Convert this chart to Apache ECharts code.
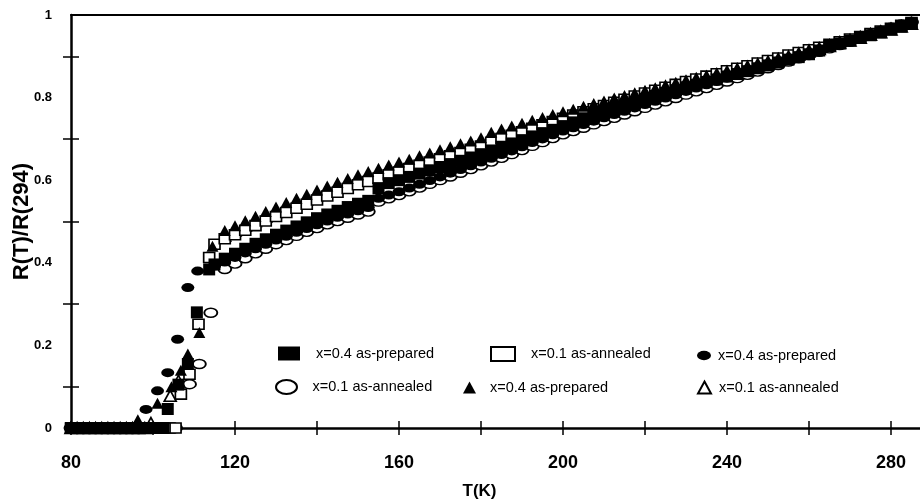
<!DOCTYPE html>
<html><head><meta charset="utf-8">
<script src="https://cdn.jsdelivr.net/npm/echarts@6/dist/echarts.min.js"></script>
<style>html,body{margin:0;padding:0;background:#fff}#c{width:920px;height:502px}</style>
</head><body><div id="c"></div>
<script>
// ---------- tick labels / names ----------
const xTickLabels = [80, 120, 160, 200, 240, 280];
const yTickLabels = [0, 0.2, 0.4, 0.6, 0.8, 1];
const xName = 'T(K)';
const yName = 'R(T)/R(294)';
const seriesIds = ['sqFilled', 'sqOpen', 'ciFilled', 'ciOpen', 'trFilled', 'trOpen'];
const legendLabels = ['x=0.4 as-prepared', 'x=0.1 as-annealed', 'x=0.4 as-prepared', 'x=0.1 as-annealed', 'x=0.4 as-prepared', 'x=0.1 as-annealed'];

// ---------- low-temperature (R = 0) region ----------
const tBase = [80, 81.5, 83, 84.5, 86, 87.5, 89, 90.5, 92, 93.5, 95, 96.5, 98, 99.5, 101, 102.5, 104, 105.5];
const sqFilledBase = [0,0,0,0,0,0,0,0,0,0,0,0,0,0,0,0,null,null];
const sqOpenBase   = [0,0,0,0,0,0,0,0,0,0,0,0,0,0,0,0,0,0];
const ciFilledBase = [0,0,0,0,0,0,0,0,0,0,0,0,null,null,null,null,null,null];
const ciOpenBase   = [0,0,0,0,0,0,0,0,0,0,0,0,0,0,0,0,0,0];
const trFilledBase = [0,0,0,0,0,0,0,0,0,0,0,null,null,null,null,null,null,null];
const trOpenBase   = [0,0,0,0,0,0,0,0,0,0,0,0,0,null,null,null,null,null];

// ---------- transition region ----------
const sqFilledTransT = [103.6, 106.2, 108.5, 110.7, 113.7];
const sqFilledTransV = [0.046, 0.105, 0.155, 0.28, 0.384];
const sqOpenTransT = [106.8, 108.9, 111.1, 113.7];
const sqOpenTransV = [0.082, 0.13, 0.251, 0.413];
const ciFilledTransT = [98.3, 101.1, 103.6, 106.0, 108.5, 110.9];
const ciFilledTransV = [0.045, 0.09, 0.134, 0.215, 0.34, 0.38];
const ciOpenTransT = [108.9, 111.3, 114.1];
const ciOpenTransV = [0.106, 0.155, 0.279];
const trFilledTransT = [96.3, 101.1, 104.5, 106.8, 108.5, 111.3, 114.5];
const trFilledTransV = [0.02, 0.06, 0.10, 0.14, 0.179, 0.231, 0.44];
const trOpenTransT = [99.5, 104.2, 106.2];
const trOpenTransV = [0.012, 0.078, 0.114];

// ---------- normal-state region ----------
const tUpper = [
  115,117.5,120,122.5,125,127.5,130,132.5,135,137.5,
  140,142.5,145,147.5,150,152.5,155,157.5,160,162.5,
  165,167.5,170,172.5,175,177.5,180,182.5,185,187.5,
  190,192.5,195,197.5,200,202.5,205,207.5,210,212.5,
  215,217.5,220,222.5,225,227.5,230,232.5,235,237.5,
  240,242.5,245,247.5,250,252.5,255,257.5,260,262.5,
  265,267.5,270,272.5,275,277.5,280,282.5,285];
const trFilledUpper = [
  null,0.478,0.490,0.502,0.513,0.524,0.535,0.546,0.556,0.566,
  0.576,0.586,0.595,0.604,0.613,0.621,0.629,0.637,0.644,0.651,
  0.659,0.666,0.674,0.681,0.688,0.695,0.703,0.716,0.724,0.731,
  0.738,0.745,0.752,0.759,0.766,0.772,0.779,0.786,0.792,0.799,
  0.805,0.812,0.818,0.824,0.831,0.837,0.843,0.849,0.855,0.861,
  0.867,0.873,0.879,0.885,0.891,0.898,0.904,0.911,0.918,0.924,
  0.931,0.938,0.944,0.951,0.958,0.964,0.971,0.977,0.984];
const trOpenUpper = [
  null,0.466,0.478,0.490,0.501,0.512,0.523,0.534,0.544,0.554,
  0.564,0.574,0.583,0.592,0.601,0.609,0.618,0.626,0.633,0.641,
  0.649,0.656,0.664,0.671,0.679,0.686,0.694,0.706,0.714,0.721,
  0.729,0.736,0.744,0.751,0.758,0.765,0.772,0.779,0.785,0.792,
  0.798,0.805,0.811,0.818,0.824,0.830,0.837,0.843,0.849,0.855,
  0.861,0.867,0.874,0.880,0.886,0.892,0.899,0.905,0.912,0.918,
  0.925,0.932,0.938,0.945,0.952,0.958,0.965,0.972,0.979];
const sqOpenUpper = [
  0.445,0.458,0.468,0.479,0.490,0.501,0.512,0.522,0.532,0.542,
  0.552,0.562,0.571,0.580,0.589,0.597,0.605,0.613,0.620,0.628,
  0.636,0.644,0.652,0.659,0.667,0.675,0.683,0.692,0.701,0.709,
  0.717,0.726,0.734,0.742,0.750,0.758,0.766,0.773,0.781,0.789,
  0.796,0.804,0.811,0.818,0.825,0.832,0.839,0.845,0.852,0.858,
  0.865,0.871,0.877,0.884,0.890,0.896,0.903,0.909,0.916,0.922,
  0.929,0.935,0.942,0.948,0.955,0.961,0.968,0.975,0.982];
const sqFilledUpper = [
  0.396,0.410,0.422,0.434,0.446,0.457,0.468,0.478,0.488,0.498,
  0.508,0.517,0.526,0.535,0.543,0.550,0.580,0.593,0.600,0.608,
  0.616,0.624,0.632,0.639,0.647,0.655,0.663,0.672,0.681,0.689,
  0.697,0.706,0.714,0.722,0.731,0.740,0.750,0.758,0.766,0.774,
  0.781,0.789,0.797,0.804,0.811,0.818,0.825,0.831,0.838,0.844,
  0.851,0.857,0.864,0.871,0.878,0.885,0.892,0.898,0.905,0.914,
  0.925,0.931,0.938,0.945,0.951,0.958,0.965,0.972,0.979];
const ciFilledUpper = [
  0.392,0.402,0.413,0.424,0.434,0.445,0.455,0.464,0.474,0.483,
  0.492,0.501,0.510,0.518,0.526,0.534,0.556,0.564,0.572,0.581,
  0.590,0.599,0.608,0.617,0.626,0.635,0.644,0.653,0.662,0.671,
  0.681,0.691,0.700,0.710,0.719,0.727,0.735,0.743,0.751,0.759,
  0.767,0.775,0.783,0.791,0.799,0.807,0.815,0.823,0.831,0.839,
  0.847,0.855,0.862,0.869,0.875,0.883,0.891,0.899,0.907,0.915,
  0.923,0.931,0.939,0.947,0.955,0.963,0.971,0.979,0.985];
const ciOpenUpper = [
  null,0.385,0.398,0.411,0.423,0.434,0.445,0.455,0.465,0.475,
  0.484,0.493,0.501,0.509,0.517,0.524,0.548,0.556,0.564,0.573,
  0.582,0.591,0.600,0.609,0.618,0.627,0.636,0.645,0.654,0.663,
  0.673,0.683,0.692,0.702,0.711,0.719,0.727,0.735,0.743,0.751,
  0.759,0.767,0.775,0.783,0.791,0.799,0.807,0.815,0.823,0.831,
  0.839,0.847,0.855,0.863,0.871,0.879,0.887,0.895,0.903,0.911,
  0.919,0.927,0.935,0.943,0.951,0.959,0.967,0.975,0.983];

// ---------- build ----------
function pairs(ts, vs) {
  const out = [];
  for (let i = 0; i < ts.length; i++) if (vs[i] !== null && vs[i] !== undefined) out.push([ts[i], vs[i]]);
  return out;
}
function build(base, tT, vT, upper) {
  return pairs(tBase, base).concat(pairs(tT, vT), pairs(tUpper, upper));
}
const dataMap = {
  sqFilled: build(sqFilledBase, sqFilledTransT, sqFilledTransV, sqFilledUpper),
  sqOpen:   build(sqOpenBase, sqOpenTransT, sqOpenTransV, sqOpenUpper),
  ciFilled: build(ciFilledBase, ciFilledTransT, ciFilledTransV, ciFilledUpper),
  ciOpen:   build(ciOpenBase, ciOpenTransT, ciOpenTransV, ciOpenUpper),
  trFilled: build(trFilledBase, trFilledTransT, trFilledTransV, trFilledUpper),
  trOpen:   build(trOpenBase, trOpenTransT, trOpenTransV, trOpenUpper)
};
const ELLIPSE = 'path://M0,4A6,4,0,1,1,12,4A6,4,0,1,1,0,4Z';
const FONT = '"Liberation Sans", Arial, Helvetica, sans-serif';
const styles = {
  sqFilled: {symbol: 'rect', size: [12, 12], color: '#000', border: 0},
  sqOpen:   {symbol: 'rect', size: [11, 10], color: '#fff', border: 1.6},
  ciFilled: {symbol: ELLIPSE, size: [13, 9], color: '#000', border: 0},
  ciOpen:   {symbol: ELLIPSE, size: [13, 9], color: '#fff', border: 1.6},
  trFilled: {symbol: 'triangle', size: [12, 11], color: '#000', border: 0},
  trOpen:   {symbol: 'triangle', size: [12, 11], color: '#fff', border: 1.6}
};
const legendSymbolSize = {sqFilled: null};
const drawOrder = ['ciOpen', 'trOpen', 'sqOpen', 'ciFilled', 'sqFilled', 'trFilled'];
const series = drawOrder.map(id => ({
  name: id, type: 'scatter', xAxisIndex: 0, yAxisIndex: 0,
  symbol: styles[id].symbol, symbolSize: styles[id].size,
  itemStyle: {color: styles[id].color, borderColor: '#000', borderWidth: styles[id].border, opacity: 1},
  emphasis: {disabled: true},
  data: dataMap[id]
}));

// legend placement: [left, top, itemWidth, itemHeight, textPadLeft]
const legendPlace = {
  sqFilled: [278, 346, 22, 14, 11],
  sqOpen:   [490, 346, 24, 14, 11],
  ciFilled: [697, 348, 14, 10, 2],
  ciOpen:   [275, 379, 30, 14, 6],
  trFilled: [463, 380, 13, 12, 9],
  trOpen:   [697, 380, 13, 12, 3]
};
const legends = seriesIds.map((id, i) => {
  const p = legendPlace[id];
  return {
    left: p[0], top: p[1], itemWidth: p[2], itemHeight: p[3], padding: 0,
    selectedMode: false, orient: 'horizontal',
    data: [{name: id, icon: styles[id].symbol}],
    formatter: () => legendLabels[i],
    textStyle: {fontFamily: FONT, fontSize: 14.5, color: '#000', padding: [0, 0, 0, p[4]]}
  };
});

const chart = echarts.init(document.getElementById('c'), null, {renderer: 'canvas'});
chart.setOption({
  animation: false,
  backgroundColor: '#fff',
  grid: {left: 71, top: 15, right: -12, bottom: 74, containLabel: false, outerBoundsMode: 'none'},
  legend: legends,
  xAxis: [
    {type: 'value', min: 80, max: 290, interval: 20, position: 'bottom',
     axisLine: {show: true, onZero: false, lineStyle: {color: '#000', width: 2.5}},
     axisTick: {show: true, length: 7, lineStyle: {color: '#000', width: 1.5}},
     axisLabel: {margin: 26, color: '#000', fontFamily: FONT, fontSize: 18, fontWeight: 'bold',
                 formatter: v => xTickLabels.indexOf(v) >= 0 ? String(v) : ''},
     splitLine: {show: false},
     name: xName, nameLocation: 'middle', nameGap: 55, nameMoveOverlap: false,
     nameTextStyle: {color: '#000', fontFamily: FONT, fontSize: 17, fontWeight: 'bold', padding: [0, 44, 0, 0]}},
    {type: 'value', min: 80, max: 290, interval: 20, position: 'bottom',
     axisLine: {show: false, onZero: false},
     axisTick: {show: true, inside: true, length: 7, lineStyle: {color: '#000', width: 1.5}},
     axisLabel: {show: false}, splitLine: {show: false}},
    {type: 'value', min: 80, max: 290, position: 'top',
     axisLine: {show: true, onZero: false, lineStyle: {color: '#000', width: 2}},
     axisTick: {show: false}, axisLabel: {show: false}, splitLine: {show: false}}
  ],
  yAxis: [
    {type: 'value', min: 0, max: 1, interval: 0.2, position: 'left',
     axisLine: {show: true, onZero: false, lineStyle: {color: '#000', width: 2.5}},
     axisTick: {show: false},
     minorTick: {show: true, splitNumber: 2, length: 8, lineStyle: {color: '#000', width: 1.5}},
     axisLabel: {margin: 19, color: '#000', fontFamily: FONT, fontSize: 13, fontWeight: 'bold',
                 formatter: v => {
                   const hit = yTickLabels.find(t => Math.abs(t - v) < 1e-9);
                   return hit === undefined ? '' : String(hit);
                 }},
     splitLine: {show: false}, minorSplitLine: {show: false},
     name: yName, nameLocation: 'middle', nameRotate: 90, nameGap: 38, nameMoveOverlap: false,
     nameTextStyle: {color: '#000', fontFamily: FONT, fontSize: 22, fontWeight: 'bold'}},
    {type: 'value', min: 0, max: 1, interval: 0.2, position: 'left',
     axisLine: {show: false, onZero: false},
     axisTick: {show: false, inside: true},
     minorTick: {show: true, splitNumber: 2, length: 8, lineStyle: {color: '#000', width: 1.5}},
     axisLabel: {show: false}, splitLine: {show: false}, minorSplitLine: {show: false}}
  ],
  series: series
});
</script>
</body></html>
